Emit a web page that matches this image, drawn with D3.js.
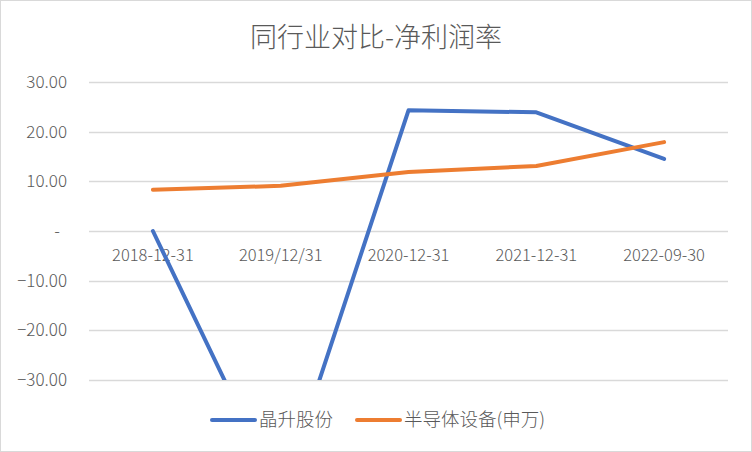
<!DOCTYPE html>
<html>
<head>
<meta charset="utf-8">
<script src="https://cdn.jsdelivr.net/npm/d3@7"></script>
<style>
  body { margin: 0; background: #fff; }
  svg text { font-family: "Noto Sans CJK SC", "Noto Sans", sans-serif; fill: #595959; font-weight: 300; }
</style>
</head>
<body>
<svg id="chart" width="752" height="452"></svg>
<script>
// chart data
var categories = ["2018-12-31", "2019/12/31", "2020-12-31", "2021-12-31", "2022-09-30"];
var jingsheng = [0.0, -53.6, 24.3, 23.9, 14.5];
var semiEquip = [8.3, 9.1, 11.9, 13.1, 17.9];
var seriesNames = ["晶升股份", "半导体设备(申万)"];
var yTicks = [30, 20, 10, 0, -10, -20, -30];
var title = "同行业对比-净利润率";

var colors = ["#4472C4", "#ED7D31"];
var width = 752;
var height = 452;
var plot = { left: 89, right: 728, top: 82, bottom: 380 };

var svg = d3.select("#chart");

// outer border
svg.append("rect")
  .attr("x", 0.5).attr("y", 0.5)
  .attr("width", width - 1).attr("height", height - 1)
  .attr("fill", "#fff")
  .attr("stroke", "#d9d9d9");

svg.append("text")
  .attr("x", 376).attr("y", 47)
  .attr("text-anchor", "middle")
  .style("font-size", "27px")
  .text(title);

var x = d3.scaleBand()
  .domain(categories)
  .range([plot.left, plot.right]);

var y = d3.scaleLinear()
  .domain([-30, 30])
  .range([plot.bottom, plot.top]);

// gridlines
svg.append("g")
  .selectAll("line")
  .data(yTicks)
  .join("line")
  .attr("x1", plot.left).attr("x2", plot.right)
  .attr("y1", d => Math.round(y(d)) + 0.5)
  .attr("y2", d => Math.round(y(d)) + 0.5)
  .attr("stroke", "#d9d9d9")
  .attr("stroke-width", 1.3);

// y tick labels
svg.append("g")
  .selectAll("text")
  .data(yTicks)
  .join("text")
  .attr("x", d => d === 0 ? 60 : 67)
  .attr("y", d => y(d))
  .attr("dy", "0.35em")
  .attr("text-anchor", "end")
  .style("font-size", "17px")
  .text(d => d === 0 ? "-" : d3.format(".2f")(d));

// category labels sit under the zero line
svg.append("g")
  .selectAll("text")
  .data(categories)
  .join("text")
  .attr("x", d => x(d) + x.bandwidth() / 2)
  .attr("y", y(0) + 30)
  .attr("text-anchor", "middle")
  .style("font-size", "16.5px")
  .text(d => d);

svg.append("clipPath")
  .attr("id", "plot-clip")
  .append("rect")
  .attr("x", plot.left).attr("y", plot.top)
  .attr("width", plot.right - plot.left)
  .attr("height", plot.bottom - plot.top);

var line = d3.line()
  .x((d, i) => x(categories[i]) + x.bandwidth() / 2)
  .y(d => y(d));

var lines = svg.append("g").attr("clip-path", "url(#plot-clip)");
[jingsheng, semiEquip].forEach((vals, k) => {
  lines.append("path")
    .datum(vals)
    .attr("d", line)
    .attr("fill", "none")
    .attr("stroke", colors[k])
    .attr("stroke-width", 4)
    .attr("stroke-linecap", "round")
    .attr("stroke-linejoin", "round");
});

// legend
var legendX = [212, 357];
var legend = svg.append("g")
  .selectAll("g")
  .data(seriesNames)
  .join("g")
  .attr("transform", (d, i) => `translate(${legendX[i]}, 420)`);

legend.append("line")
  .attr("x1", 0).attr("x2", 43)
  .attr("stroke", (d, i) => colors[i])
  .attr("stroke-width", 4)
  .attr("stroke-linecap", "round");

legend.append("text")
  .attr("x", 47)
  .attr("dy", "0.35em")
  .style("font-size", "18.5px")
  .text(d => d);
</script>
</body>
</html>
